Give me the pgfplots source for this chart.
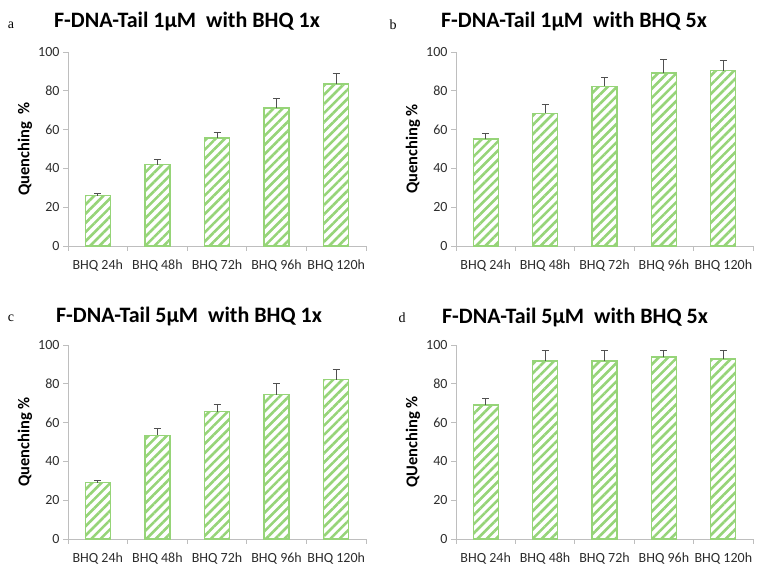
\documentclass[border=0pt]{standalone}
\usepackage{pgfplots}
\pgfplotsset{compat=1.18}
\usepackage{fontspec}
\setmainfont{Carlito}
\newfontfamily\serifl{Liberation Serif}
\usetikzlibrary{patterns.meta}
\definecolor{barg}{RGB}{150,212,120}
\definecolor{axg}{RGB}{190,190,190}
\definecolor{txt}{RGB}{45,45,45}
\definecolor{errc}{RGB}{80,80,80}

\pgfplotsset{panel/.style={
  scale only axis, width=298bp, height=194bp, anchor=south west,
  xmin=-0.5, xmax=4.5, ymin=0, ymax=100,
  ytick={0,20,...,100},
  axis x line=bottom, axis y line=left,
  axis line style={draw=axg, line width=0.8bp, -},
  tick style={draw=axg, line width=0.8bp},
  tick align=outside, major tick length=5bp,
  xtick={-0.5,0.5,...,4.5}, xticklabels={},
  extra x ticks={0,1,2,3,4},
  extra x tick labels={BHQ 24h,BHQ 48h,BHQ 72h,BHQ 96h,BHQ 120h},
  extra x tick style={major tick length=0pt, grid=none, xticklabel style={yshift=-10bp}},
  ticklabel style={font=\fontsize{14bp}{16bp}\selectfont, text=txt},
  /pgf/number format/assume math mode=true,
  every axis y label/.style={at={(axis description cs:0,0.5)}, xshift=-43bp, rotate=90, anchor=center,
    font=\bfseries\fontsize{16.5bp}{18bp}\selectfont, text=black},
  clip=false,
}}

\pgfplotsset{bars/.style={ybar, bar width=25bp, draw=barg, line width=1.3bp,
  pattern={Lines[angle=45,distance=6.5bp,line width=2.6bp]}, pattern color=barg,
  error bars/.cd, y dir=plus, y explicit,
  error bar style={color=errc, line width=1bp},
  error mark options={rotate=90, mark size=3.5bp, color=errc, line width=1bp}}}

\begin{document}
\begin{tikzpicture}[x=1bp,y=1bp]
\useasboundingbox (0,0) rectangle (763,575);

\begin{axis}[panel, at={(68bp,329bp)}, ylabel={Quenching~~\%}]
\addplot[bars] coordinates {
 (0,25.9) +- (0,1.2)
 (1,42.0) +- (0,2.6)
 (2,55.7) +- (0,2.8)
 (3,71.2) +- (0,4.8)
 (4,83.5) +- (0,5.5)
};
\end{axis}

\begin{axis}[panel, at={(456bp,329bp)}, width=297bp, ylabel={Quenching \%}]
\addplot[bars] coordinates {
 (0,55.2) +- (0,2.8)
 (1,68.4) +- (0,4.3)
 (2,82.3) +- (0,4.5)
 (3,89.2) +- (0,6.9)
 (4,90.4) +- (0,5.3)
};
\end{axis}

\begin{axis}[panel, at={(68bp,36bp)}, ylabel={Quenching \%}]
\addplot[bars] coordinates {
 (0,29.1) +- (0,1.2)
 (1,53.5) +- (0,3.6)
 (2,65.6) +- (0,3.6)
 (3,74.4) +- (0,5.9)
 (4,82.1) +- (0,5.1)
};
\end{axis}

\begin{axis}[panel, at={(456bp,36bp)}, width=297bp, ylabel={QUenching \%}]
\addplot[bars] coordinates {
 (0,69.1) +- (0,3.2)
 (1,91.8) +- (0,5.6)
 (2,91.8) +- (0,5.6)
 (3,93.8) +- (0,3.6)
 (4,92.8) +- (0,4.6)
};
\end{axis}

\tikzset{ttl/.style={font=\bfseries\fontsize{22bp}{24bp}\selectfont, anchor=center},
         lt/.style={font=\serifl\fontsize{14bp}{16bp}\selectfont, anchor=center}}
\node[ttl] at (187,553) {F-DNA-Tail 1µM~~with BHQ 1x};
\node[ttl] at (574,553) {F-DNA-Tail 1µM~~with BHQ 5x};
\node[ttl] at (189,258) {F-DNA-Tail 5µM~~with BHQ 1x};
\node[ttl] at (575,257) {F-DNA-Tail 5µM~~with BHQ 5x};
\node[lt] at (11,550) {a};
\node[lt] at (393,550) {b};
\node[lt] at (11,257) {c};
\node[lt] at (402,257) {d};
\end{tikzpicture}
\end{document}
